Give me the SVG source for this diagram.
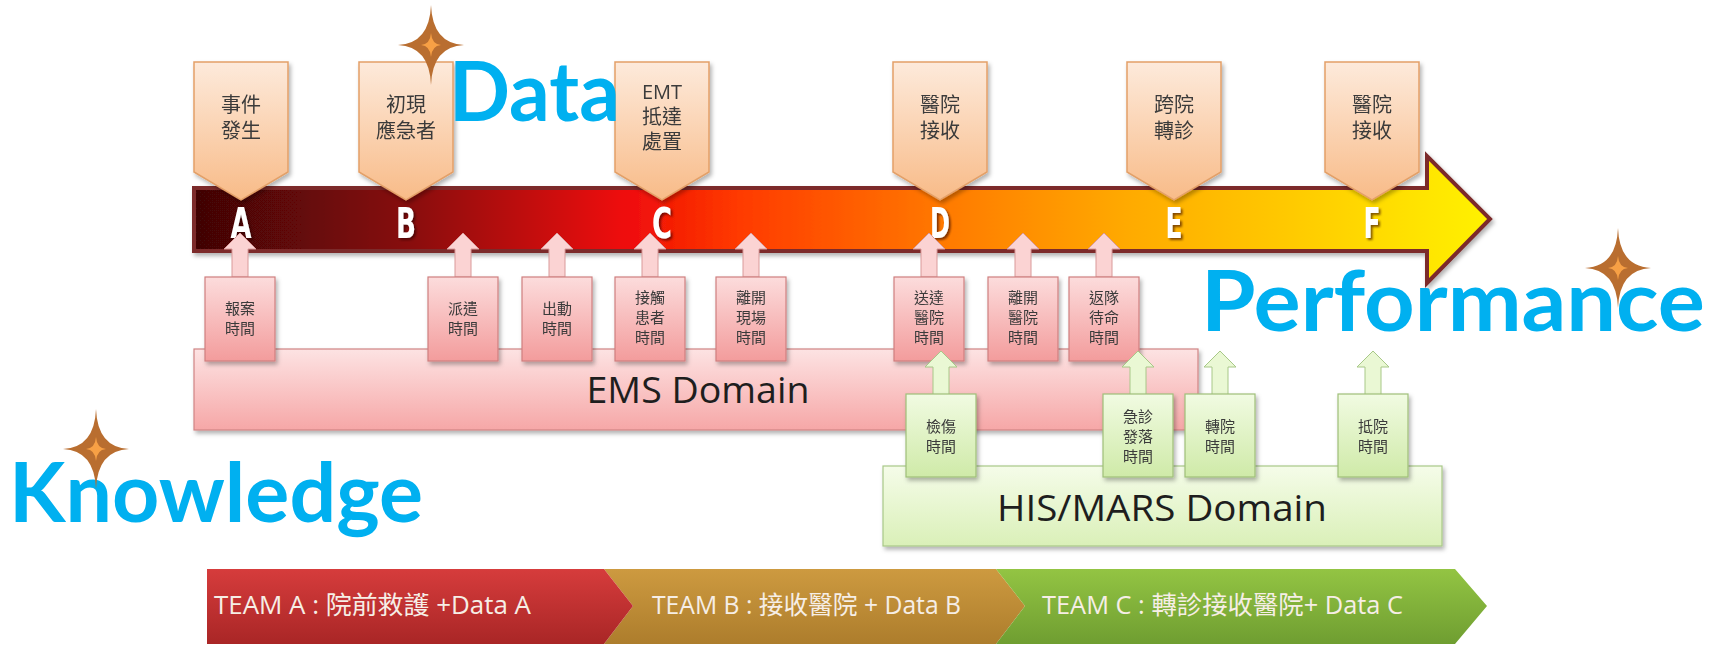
<svg xmlns="http://www.w3.org/2000/svg" xmlns:xlink="http://www.w3.org/1999/xlink" width="1712" height="646" viewBox="0 0 1712 646">
<defs>
<style>
.cjk{font-family:"Open Sans","Noto Sans CJK TC",sans-serif;fill:#3a3a3a;text-anchor:middle}
.call{font-size:20px}
.small{font-size:15px}
.letter{font-family:"DejaVu Sans Condensed","DejaVu Sans",sans-serif;font-weight:bold;font-size:42px;text-anchor:middle;fill:#fff}
.big{font-family:Lato,"Open Sans",sans-serif;font-weight:bold;fill:#00b0f0}
.dom{font-family:"Open Sans","Noto Sans",sans-serif;font-size:37px;fill:#1e1e1e;text-anchor:middle}
.team{font-family:"Open Sans","Noto Sans CJK TC",sans-serif;font-size:25px;fill:#f6eee6}
.callout{fill:url(#gPeach);stroke:#e3a068;stroke-width:1.5}
.pbox{fill:url(#gPink);stroke:#cf7f7f;stroke-width:1.2}
.gbox{fill:url(#gGreen);stroke:#9fbf78;stroke-width:1.2}
.parrow{fill:#fbd3d3;stroke:#d99a9a;stroke-width:1}
.garrow{fill:#eaf8d4;stroke:#a8c888;stroke-width:1}
.starO{fill:#b96e30}
.starI{fill:#f7a045}
</style>
<linearGradient id="gPeach" x1="0" y1="0" x2="0" y2="1"><stop offset="0" stop-color="#fdeadb"/><stop offset="1" stop-color="#f8bb88"/></linearGradient>
<linearGradient id="gPink" x1="0" y1="0" x2="0" y2="1"><stop offset="0" stop-color="#fcdcdc"/><stop offset="1" stop-color="#f39c9c"/></linearGradient>
<linearGradient id="gPinkBig" x1="0" y1="0" x2="0" y2="1"><stop offset="0" stop-color="#fde3e3"/><stop offset="1" stop-color="#f6a7a7"/></linearGradient>
<linearGradient id="gGreen" x1="0" y1="0" x2="0" y2="1"><stop offset="0" stop-color="#f1fbe2"/><stop offset="1" stop-color="#cfeaa8"/></linearGradient>
<linearGradient id="gGreenBig" x1="0" y1="0" x2="0" y2="1"><stop offset="0" stop-color="#f5fce9"/><stop offset="1" stop-color="#daf0b8"/></linearGradient>
<linearGradient id="gBar" gradientUnits="userSpaceOnUse" x1="194" y1="0" x2="1490" y2="0">
<stop offset="0" stop-color="#3f0606"/>
<stop offset="0.17" stop-color="#8a0808"/>
<stop offset="0.33" stop-color="#ee0a0a"/>
<stop offset="0.42" stop-color="#ff3a00"/>
<stop offset="0.58" stop-color="#ff7a00"/>
<stop offset="0.72" stop-color="#ffaa00"/>
<stop offset="0.87" stop-color="#ffd000"/>
<stop offset="1" stop-color="#fff200"/>
</linearGradient>
<linearGradient id="gRed" x1="0" y1="0" x2="0" y2="1"><stop offset="0" stop-color="#d63c3c"/><stop offset="1" stop-color="#a92626"/></linearGradient>
<linearGradient id="gGold" x1="0" y1="0" x2="0" y2="1"><stop offset="0" stop-color="#cd9a40"/><stop offset="1" stop-color="#ad7d2c"/></linearGradient>
<linearGradient id="gLime" x1="0" y1="0" x2="0" y2="1"><stop offset="0" stop-color="#93c443"/><stop offset="1" stop-color="#6f9e31"/></linearGradient>
<filter id="sh" x="-20%" y="-20%" width="140%" height="150%"><feDropShadow dx="2" dy="3" stdDeviation="2" flood-color="#000" flood-opacity="0.3"/></filter>
<filter id="lsh" x="-30%" y="-30%" width="160%" height="160%"><feDropShadow dx="2" dy="2" stdDeviation="1" flood-color="#2a0000" flood-opacity="0.6"/></filter>
<path id="upArrow" d="M-8,44 L-8,16 L-16,16 L0,0 L16,16 L8,16 L8,44 Z"/>
<path id="callShape" d="M-47,0 L47,0 L47,110 L0,138 L-47,110 Z"/>
<path id="starOuter" d="M0,-40 Q1.5,-1.5 33,0 Q1.5,1.5 0,40 Q-1.5,1.5 -33,0 Q-1.5,-1.5 0,-40 Z"/>
<path id="starInner" d="M0,-12 Q0.8,-0.8 10,0 Q0.8,0.8 0,12 Q-0.8,0.8 -10,0 Q-0.8,-0.8 0,-12 Z"/>
</defs>
<rect width="1712" height="646" fill="#fff"/>

<g id="timeline">
<path d="M194,188 L1427,188 L1427,156 L1490,219 L1427,283 L1427,251 L194,251 Z" fill="url(#gBar)" stroke="#7b2a2a" stroke-width="4" stroke-linejoin="miter" filter="url(#sh)"/>
</g>

<g id="ems-domain">
<rect x="194" y="349" width="1004" height="81" fill="url(#gPinkBig)" stroke="#d08484" stroke-width="1.2" filter="url(#sh)"/>
<text class="dom" x="698" y="403" textLength="223" lengthAdjust="spacingAndGlyphs">EMS Domain</text>
</g>
<g id="his-domain">
<rect x="883" y="466" width="559" height="80" fill="url(#gGreenBig)" stroke="#a8c888" stroke-width="1.2" filter="url(#sh)"/>
<text class="dom" x="1162" y="521" textLength="330" lengthAdjust="spacingAndGlyphs">HIS/MARS Domain</text>
</g>

<g id="callout-A" filter="url(#sh)"><use href="#callShape" class="callout" transform="translate(241,62)"/>
<text class="cjk call" x="241" y="112">事件</text><text class="cjk call" x="241" y="138">發生</text></g>
<g id="callout-B" filter="url(#sh)"><use href="#callShape" class="callout" transform="translate(406,62)"/>
<text class="cjk call" x="406" y="112">初現</text><text class="cjk call" x="406" y="138">應急者</text></g>
<g id="callout-C" filter="url(#sh)"><use href="#callShape" class="callout" transform="translate(662,62)"/>
<text class="cjk call" x="662" y="99">EMT</text><text class="cjk call" x="662" y="124">抵達</text><text class="cjk call" x="662" y="149">處置</text></g>
<g id="callout-D" filter="url(#sh)"><use href="#callShape" class="callout" transform="translate(940,62)"/>
<text class="cjk call" x="940" y="112">醫院</text><text class="cjk call" x="940" y="138">接收</text></g>
<g id="callout-E" filter="url(#sh)"><use href="#callShape" class="callout" transform="translate(1174,62)"/>
<text class="cjk call" x="1174" y="112">跨院</text><text class="cjk call" x="1174" y="138">轉診</text></g>
<g id="callout-F" filter="url(#sh)"><use href="#callShape" class="callout" transform="translate(1372,62)"/>
<text class="cjk call" x="1372" y="112">醫院</text><text class="cjk call" x="1372" y="138">接收</text></g>

<g id="letters" filter="url(#lsh)">
<text class="letter" x="241" y="238" textLength="21" lengthAdjust="spacingAndGlyphs">A</text>
<text class="letter" x="406" y="238" textLength="20" lengthAdjust="spacingAndGlyphs">B</text>
<text class="letter" x="662" y="238" textLength="20" lengthAdjust="spacingAndGlyphs">C</text>
<text class="letter" x="940" y="238" textLength="20" lengthAdjust="spacingAndGlyphs">D</text>
<text class="letter" x="1174" y="238" textLength="17" lengthAdjust="spacingAndGlyphs">E</text>
<text class="letter" x="1372" y="238" textLength="17" lengthAdjust="spacingAndGlyphs">F</text>
</g>

<g id="connectors">
<use href="#upArrow" class="parrow" x="240" y="233"/>
<use href="#upArrow" class="parrow" x="463" y="233"/>
<use href="#upArrow" class="parrow" x="557" y="233"/>
<use href="#upArrow" class="parrow" x="650" y="233"/>
<use href="#upArrow" class="parrow" x="751" y="233"/>
<use href="#upArrow" class="parrow" x="929" y="233"/>
<use href="#upArrow" class="parrow" x="1023" y="233"/>
<use href="#upArrow" class="parrow" x="1104" y="233"/>
</g>

<g id="t-report" filter="url(#sh)"><rect class="pbox" x="205" y="277" width="70" height="84"/>
<text class="cjk small" x="240" y="314">報案</text><text class="cjk small" x="240" y="334">時間</text></g>
<g id="t-dispatch" filter="url(#sh)"><rect class="pbox" x="428" y="277" width="70" height="84"/>
<text class="cjk small" x="463" y="314">派遣</text><text class="cjk small" x="463" y="334">時間</text></g>
<g id="t-depart" filter="url(#sh)"><rect class="pbox" x="522" y="277" width="70" height="84"/>
<text class="cjk small" x="557" y="314">出動</text><text class="cjk small" x="557" y="334">時間</text></g>
<g id="t-contact" filter="url(#sh)"><rect class="pbox" x="615" y="277" width="70" height="84"/>
<text class="cjk small" x="650" y="303">接觸</text><text class="cjk small" x="650" y="323">患者</text><text class="cjk small" x="650" y="343">時間</text></g>
<g id="t-leave-scene" filter="url(#sh)"><rect class="pbox" x="716" y="277" width="70" height="84"/>
<text class="cjk small" x="751" y="303">離開</text><text class="cjk small" x="751" y="323">現場</text><text class="cjk small" x="751" y="343">時間</text></g>
<g id="t-arrive-hosp" filter="url(#sh)"><rect class="pbox" x="894" y="277" width="70" height="84"/>
<text class="cjk small" x="929" y="303">送達</text><text class="cjk small" x="929" y="323">醫院</text><text class="cjk small" x="929" y="343">時間</text></g>
<g id="t-leave-hosp" filter="url(#sh)"><rect class="pbox" x="988" y="277" width="70" height="84"/>
<text class="cjk small" x="1023" y="303">離開</text><text class="cjk small" x="1023" y="323">醫院</text><text class="cjk small" x="1023" y="343">時間</text></g>
<g id="t-return" filter="url(#sh)"><rect class="pbox" x="1069" y="277" width="70" height="84"/>
<text class="cjk small" x="1104" y="303">返隊</text><text class="cjk small" x="1104" y="323">待命</text><text class="cjk small" x="1104" y="343">時間</text></g>

<g id="connectors-his">
<use href="#upArrow" class="garrow" x="941" y="351"/>
<use href="#upArrow" class="garrow" x="1138" y="351"/>
<use href="#upArrow" class="garrow" x="1220" y="351"/>
<use href="#upArrow" class="garrow" x="1373" y="351"/>
</g>

<g id="t-triage" filter="url(#sh)"><rect class="gbox" x="906" y="394" width="70" height="83"/>
<text class="cjk small" x="941" y="432">檢傷</text><text class="cjk small" x="941" y="452">時間</text></g>
<g id="t-er" filter="url(#sh)"><rect class="gbox" x="1103" y="394" width="70" height="83"/>
<text class="cjk small" x="1138" y="422">急診</text><text class="cjk small" x="1138" y="442">發落</text><text class="cjk small" x="1138" y="462">時間</text></g>
<g id="t-transfer" filter="url(#sh)"><rect class="gbox" x="1185" y="394" width="70" height="83"/>
<text class="cjk small" x="1220" y="432">轉院</text><text class="cjk small" x="1220" y="452">時間</text></g>
<g id="t-arrive" filter="url(#sh)"><rect class="gbox" x="1338" y="394" width="70" height="83"/>
<text class="cjk small" x="1373" y="432">抵院</text><text class="cjk small" x="1373" y="452">時間</text></g>

<g id="team-b"><path d="M604,569 L996,569 L1025,606 L996,644 L604,644 L633,606 Z" fill="url(#gGold)"/>
<text class="team" x="652" y="614" textLength="309" lengthAdjust="spacingAndGlyphs">TEAM B : 接收醫院 + Data B</text></g>
<g id="team-a"><path d="M207,569 L604,569 L633,606 L604,644 L207,644 Z" fill="url(#gRed)"/>
<text class="team" x="214" y="614" textLength="317" lengthAdjust="spacingAndGlyphs">TEAM A : 院前救護 +Data A</text></g>
<g id="team-c"><path d="M996,569 L1455,569 L1487,606 L1455,644 L996,644 L1025,606 Z" fill="url(#gLime)"/>
<text class="team" x="1042" y="614" textLength="361" lengthAdjust="spacingAndGlyphs">TEAM C : 轉診接收醫院+ Data C</text></g>

<g id="word-data"><text class="big" x="449" y="121" font-size="82" textLength="171" lengthAdjust="spacingAndGlyphs">Data</text></g>
<g id="word-performance"><text class="big" x="1201" y="331" font-size="84" textLength="504" lengthAdjust="spacingAndGlyphs">Performance</text></g>
<g id="word-knowledge"><text class="big" x="9" y="522" font-size="83" textLength="414" lengthAdjust="spacingAndGlyphs">Knowledge</text></g>

<g id="star-data" transform="translate(431,45)"><use href="#starOuter" class="starO"/><use href="#starInner" class="starI"/></g>
<g id="star-performance" transform="translate(1618,268)"><use href="#starOuter" class="starO"/><use href="#starInner" class="starI"/></g>
<g id="star-knowledge" transform="translate(96,449)"><use href="#starOuter" class="starO"/><use href="#starInner" class="starI"/></g>
</svg>
